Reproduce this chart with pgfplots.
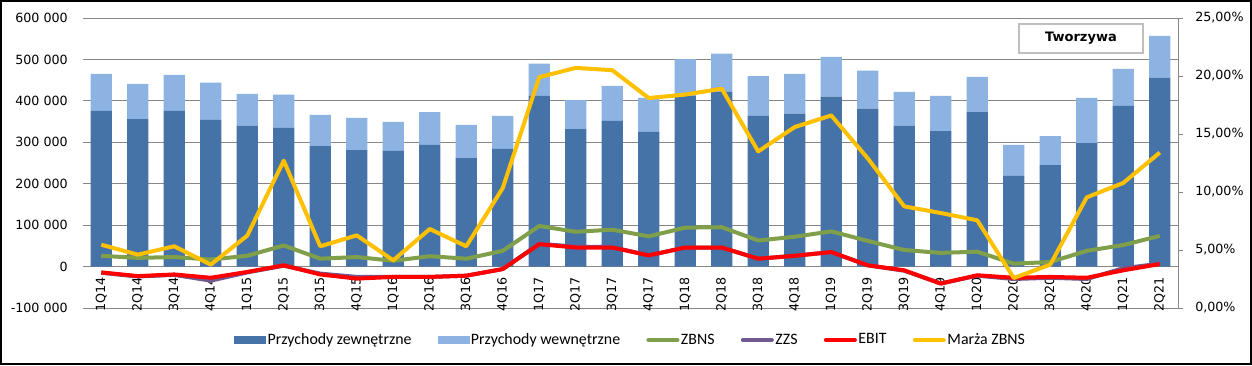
\documentclass[border=0pt]{standalone}
\usepackage{pgfplots}
\pgfplotsset{compat=1.18}
\usepackage{pgfplotstable}
\usepackage{fontspec}
\setmainfont{DejaVu Sans}
\newfontfamily\legfont{Carlito}
\definecolor{cExt}{HTML}{4673A7}
\definecolor{cInt}{HTML}{8DB3E2}
\definecolor{cZbns}{HTML}{7F9F4A}
\definecolor{cZzs}{HTML}{71588F}
\definecolor{cEbit}{HTML}{FF0000}
\definecolor{cMarza}{HTML}{FFC000}
\definecolor{cGrid}{HTML}{868686}
\definecolor{cBox}{HTML}{BFBFBF}

\pgfplotstableread{
idx ext int zbns zzs ebit marza
0 376 89 26 -15 -14 5.46
1 356 85 21 -24 -23 4.60
2 376 87 23 -20 -19 5.32
3 354 90 17 -34 -27 3.74
4 340 77 26 -14 -13 6.24
5 335 80 51 2 3 12.70
6 291 75 19 -17 -19 5.32
7 281 78 23 -25 -29 6.26
8 279 70 14 -25 -25 4.11
9 294 79 25 -25 -25 6.81
10 262 80 19 -22 -22 5.32
11 284 80 38 -6 -6 10.34
12 412 78 98 55 54 19.90
13 332 70 84 48 46 20.70
14 352 84 89 47 46 20.50
15 325 82 73 27 27 18.10
16 412 89 94 46 46 18.40
17 422 92 95 46 46 18.90
18 364 96 63 19 19 13.50
19 369 96 72 26 26 15.60
20 410 96 85 35 35 16.60
21 381 92 62 3 3 12.90
22 340 82 40 -10 -9 8.76
23 327 85 33 -41 -41 8.19
24 373 85 36 -22 -21 7.56
25 219 75 7 -30 -27 2.59
26 245 70 11 -27 -25 3.74
27 298 109 38 -30 -27 9.54
28 388 89 52 -4 -9 10.78
29 456 101 74 7 6 13.40
}\data

\begin{document}
\begin{tikzpicture}
\useasboundingbox (-62.25pt,-42.75pt) rectangle (876.75pt,231pt);
\fill[white] (-62.25pt,-42.75pt) rectangle (876.75pt,231pt);
\draw[black,line width=1.3pt] (-61.6pt,-42.1pt) rectangle (876.1pt,230.35pt);
\pgfplotsset{every axis/.append style={
  scale only axis, width=821.25pt, height=217.5pt,
  at={(0pt,0pt)}, anchor=south west,
  xmin=-0.5, xmax=29.5}}
\begin{axis}[
  ymin=-100, ymax=600,
  ybar stacked, bar width=0.58,
  axis line style={draw=none},
  major tick length=0pt,
  ytick={-100,0,100,200,300,400,500,600},
  yticklabels={-100 000,0,100 000,200 000,300 000,400 000,500 000,600 000},
  ymajorgrids, grid style={cGrid, line width=0.75pt},
  xtick={0,...,29},
  xticklabels={1Q14,2Q14,3Q14,4Q14,1Q15,2Q15,3Q15,4Q15,1Q16,2Q16,3Q16,4Q16,1Q17,2Q17,3Q17,4Q17,1Q18,2Q18,3Q18,4Q18,1Q19,2Q19,3Q19,4Q19,1Q20,2Q20,3Q20,4Q20,1Q21,2Q21},
  xticklabel style={rotate=90, anchor=east, inner sep=0pt, font=\fontsize{9.5}{11}\selectfont},
  xticklabel shift=-23.25pt,
  yticklabel style={anchor=east, inner sep=0pt, xshift=-11.25pt, font=\fontsize{9.5}{11}\selectfont},
]
\addplot[fill=cExt, draw=none] table[x=idx,y=ext]{\data};
\addplot[fill=cInt, draw=none] table[x=idx,y=int]{\data};
\end{axis}
\begin{axis}[ymin=-100, ymax=600, hide axis]
\addplot[cZbns, line width=3pt, line join=round] table[x=idx,y=zbns]{\data};
\addplot[cZzs, line width=3pt, line join=round] table[x=idx,y=zzs]{\data};
\addplot[cEbit, line width=3pt, line join=round] table[x=idx,y=ebit]{\data};
\end{axis}
\begin{axis}[ymin=0, ymax=25,
  axis x line=none, axis y line*=right,
  ytick={0,5,10,15,20,25},
  yticklabels={{0,00\%},{5,00\%},{10,00\%},{15,00\%},{20,00\%},{25,00\%}},
  y axis line style={cGrid, line width=0.75pt},
  ytick style={cGrid, line width=0.75pt},
  tick align=outside, major tick length=3.75pt,
  yticklabel style={anchor=west, inner sep=0pt, xshift=9pt, font=\fontsize{9.5}{11}\selectfont},
  legend columns=6,
  legend style={at={(0.5,-0.110)}, anchor=center, draw=none, fill=none,
    font=\legfont\fontsize{11.9}{14}\selectfont,
    /tikz/every even column/.append style={column sep=18.5pt},
    cells={anchor=west}, nodes={inner sep=1.2pt}},
]
\addlegendimage{legend image code/.code={\fill[cExt] (0pt,-2.6pt) rectangle (23.25pt,2.6pt);}}
\addlegendentry{Przychody zewnętrzne}
\addlegendimage{legend image code/.code={\fill[cInt] (0pt,-2.6pt) rectangle (23.25pt,2.6pt);}}
\addlegendentry{Przychody wewnętrzne}
\addlegendimage{legend image code/.code={\draw[cZbns, line width=3pt, line cap=round] (1.5pt,0pt) -- (23.25pt,0pt);}}
\addlegendentry{ZBNS}
\addlegendimage{legend image code/.code={\draw[cZzs, line width=3pt, line cap=round] (1.5pt,0pt) -- (23.25pt,0pt);}}
\addlegendentry{ZZS}
\addlegendimage{legend image code/.code={\draw[cEbit, line width=3pt, line cap=round] (1.5pt,0pt) -- (23.25pt,0pt);}}
\addlegendentry{EBIT}
\addplot[cMarza, line width=3pt, line join=round, legend image code/.code={\draw[cMarza, line width=3pt, line cap=round] (1.5pt,0pt) -- (23.25pt,0pt);}] table[x=idx,y=marza]{\data};
\addlegendentry{Marża ZBNS}
\node[draw=cBox, fill=white, line width=1pt, minimum width=93pt, minimum height=21.75pt, inner sep=0pt, font=\bfseries\fontsize{9.75}{12}\selectfont] at (rel axis cs:0.9114,0.929) {Tworzywa};
\end{axis}
\end{tikzpicture}
\end{document}
